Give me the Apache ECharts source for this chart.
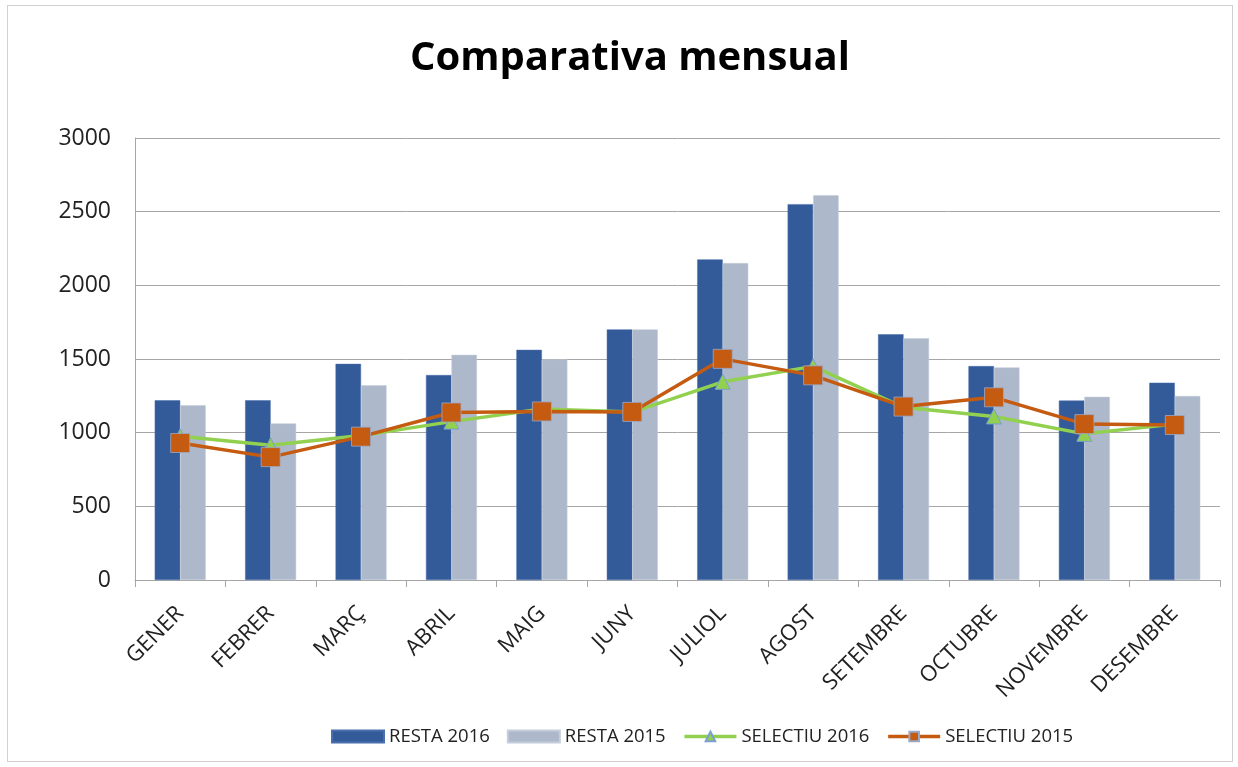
<!DOCTYPE html>
<html>
<head>
<meta charset="utf-8">
<script src="https://cdn.jsdelivr.net/npm/echarts@6/dist/echarts.min.js"></script>
<style>
html, body { margin: 0; padding: 0; background: #fff; }
#chart {
    position: absolute;
    left: 7px; top: 5px;
    width: 1226px; height: 757px;
    border: 1px solid #d0d0d0;
    box-sizing: border-box;
}
</style>
</head>
<body>
<div id="chart"></div>
<script>
// dades llegides del gràfic
const months = ['GENER', 'FEBRER', 'MARÇ', 'ABRIL', 'MAIG', 'JUNY', 'JULIOL', 'AGOST', 'SETEMBRE', 'OCTUBRE', 'NOVEMBRE', 'DESEMBRE'];
const resta2016 = [1220, 1220, 1467, 1391, 1562, 1701, 2176, 2551, 1668, 1452, 1218, 1339];
const resta2015 = [1186, 1063, 1321, 1528, 1497, 1701, 2151, 2611, 1641, 1443, 1243, 1249];
const selectiu2016 = [975, 915, 980, 1075, 1160, 1140, 1345, 1450, 1172, 1110, 992, 1058];
const selectiu2015 = [930, 834, 973, 1137, 1144, 1141, 1501, 1389, 1177, 1240, 1058, 1052];
const yTicks = [0, 500, 1000, 1500, 2000, 2500, 3000];

const font = '"Open Sans", "Noto Sans", sans-serif';

var myChart = echarts.init(document.getElementById('chart'));
var option = {
    animation: false,
    title: {
        text: 'Comparativa mensual',
        left: 397,
        top: 28,
        textStyle: { fontFamily: font, fontSize: 40, fontWeight: 'bold', color: '#000' }
    },
    legend: {
        bottom: 10,
        left: 318,
        itemWidth: 52,
        itemHeight: 12,
        itemGap: 17,
        textStyle: { fontFamily: font, fontSize: 18.5, color: '#222' },
        data: [
            { name: 'RESTA 2016', icon: 'rect' },
            { name: 'RESTA 2015', icon: 'rect' },
            { name: 'SELECTIU 2016', lineStyle: { width: 3.5 } },
            { name: 'SELECTIU 2015', lineStyle: { width: 3.5 } }
        ]
    },
    grid: {
        left: 127,
        right: 12,
        top: 132,
        bottom: 181
    },
    xAxis: {
        type: 'category',
        data: months,
        axisLine: { lineStyle: { color: '#a6a6a6', width: 1 } },
        axisTick: { show: true, length: 7, lineStyle: { color: '#a6a6a6' } },
        axisLabel: {
            rotate: 45,
            fontFamily: font,
            fontSize: 22,
            color: '#222',
            margin: 30
        }
    },
    yAxis: {
        type: 'value',
        min: 0,
        max: 3000,
        interval: 500,
        axisLine: { show: true, lineStyle: { color: '#a6a6a6' } },
        axisTick: { show: false },
        splitLine: { lineStyle: { color: '#a6a6a6', width: 1 } },
        axisLabel: {
            fontFamily: font,
            fontSize: 23,
            color: '#222',
            margin: 24,
            formatter: function (v) { return yTicks.indexOf(v) >= 0 ? String(v) : ''; }
        }
    },
    series: [
        {
            name: 'RESTA 2016',
            type: 'bar',
            data: resta2016,
            barWidth: 25.5,
            barGap: '0%',
            itemStyle: { color: '#335a99', borderColor: '#4a6fae', borderWidth: 0.5 }
        },
        {
            name: 'RESTA 2015',
            type: 'bar',
            data: resta2015,
            barWidth: 25.5,
            barGap: '0%',
            itemStyle: { color: '#adb8cb', borderColor: '#c4cddb', borderWidth: 0.5 }
        },
        {
            name: 'SELECTIU 2016',
            type: 'line',
            data: selectiu2016,
            symbol: 'triangle',
            symbolSize: 15,
            lineStyle: { color: '#92d050', width: 3.5 },
            itemStyle: { color: '#92d050', borderColor: '#7a9fd0', borderWidth: 1 },
            z: 3
        },
        {
            name: 'SELECTIU 2015',
            type: 'line',
            data: selectiu2015,
            symbol: 'rect',
            symbolSize: 19,
            lineStyle: { color: '#c55a11', width: 3.5 },
            itemStyle: { color: '#c55a11', borderColor: '#9aa9c8', borderWidth: 0.8 },
            z: 4
        }
    ]
};
myChart.setOption(option);
window.addEventListener('resize', () => {
    myChart.resize()
})
</script>
</body>
</html>
